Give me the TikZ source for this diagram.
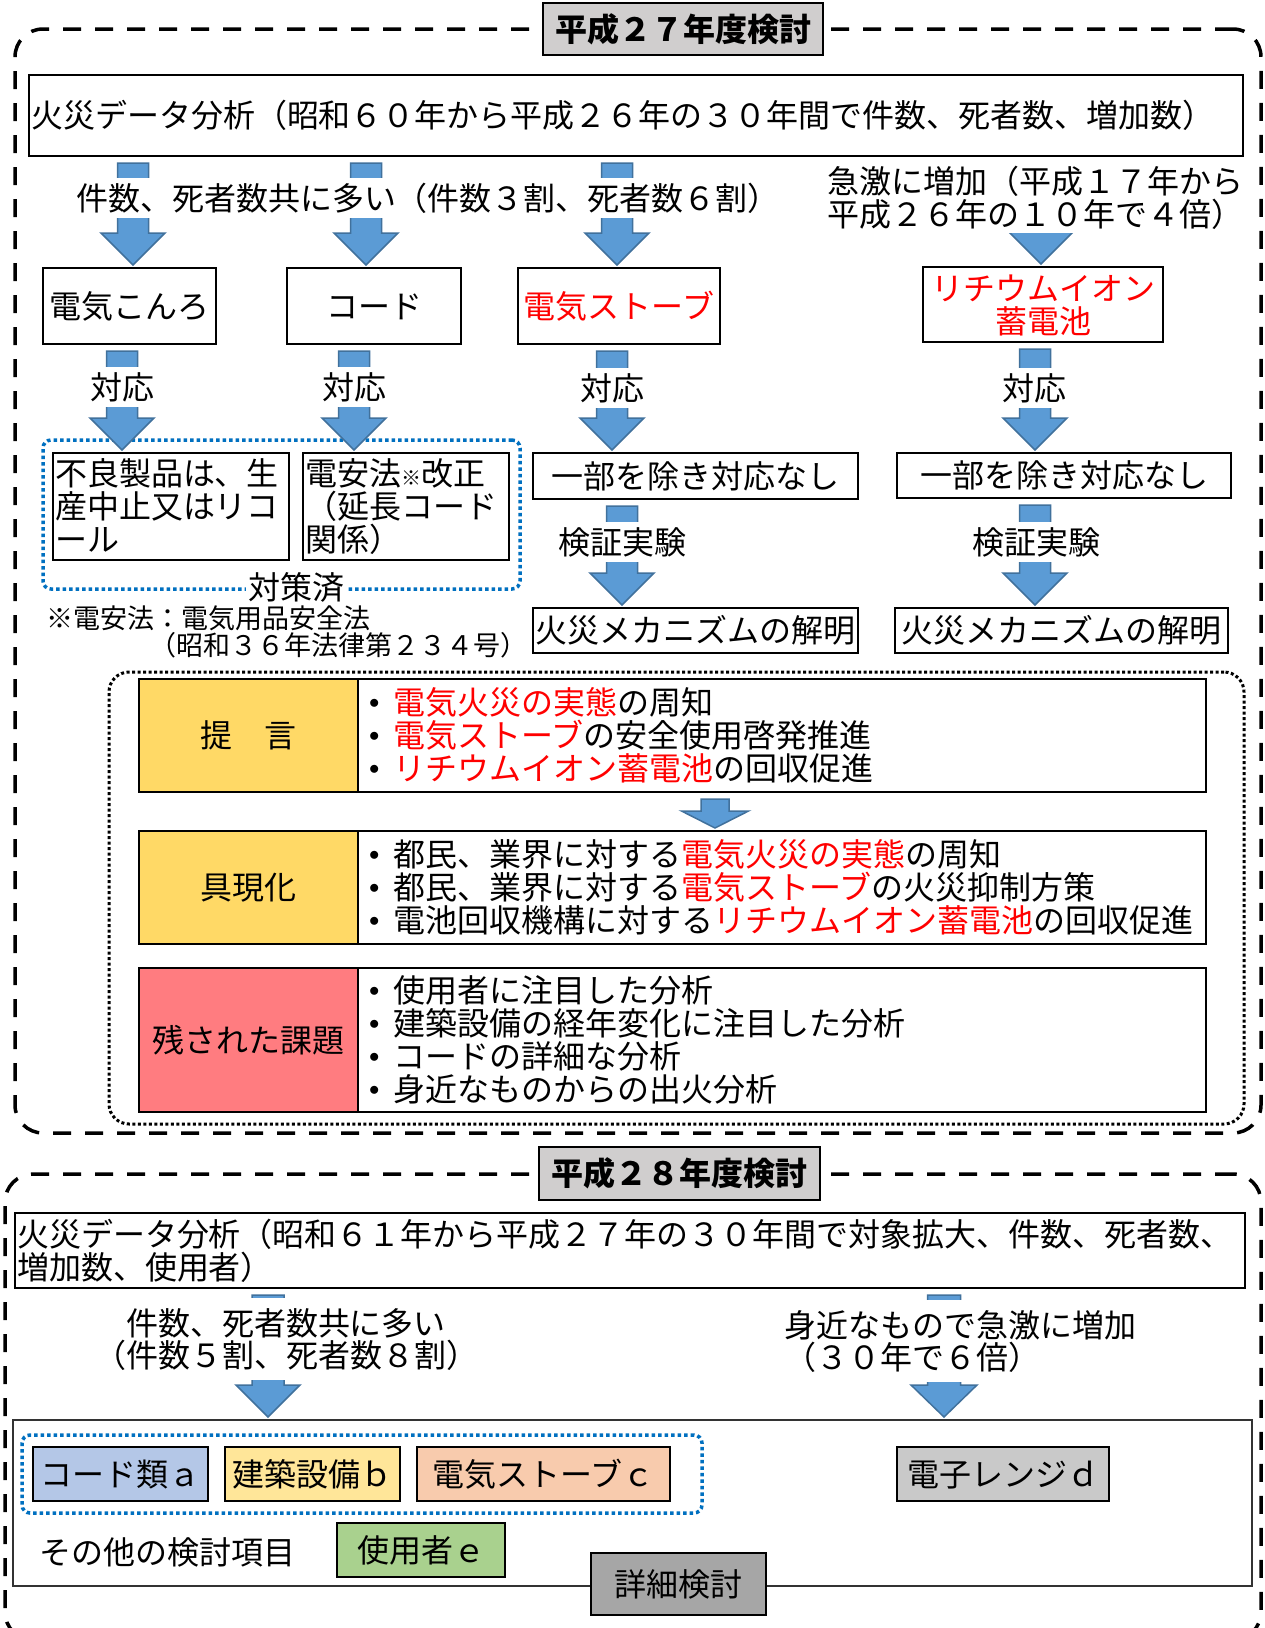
\documentclass[tikz,border=0pt]{standalone}
\usepackage{fontspec}
\setmainfont{Noto Sans CJK JP}
\usetikzlibrary{calc}
\definecolor{afill}{HTML}{5B9BD5}
\definecolor{aedge}{HTML}{41719C}
\definecolor{dblue}{HTML}{0070C0}
\definecolor{tgray}{HTML}{D0CECE}
\definecolor{yel}{HTML}{FFD966}
\definecolor{rowred}{HTML}{FF7C80}
\definecolor{cblue}{HTML}{B4C7E7}
\definecolor{cyel}{HTML}{FFE699}
\definecolor{corange}{HTML}{F8CBAD}
\definecolor{cgray}{HTML}{C9C9C9}
\definecolor{cgreen}{HTML}{A9D18E}
\definecolor{dgray}{HTML}{A6A6A6}
\newcommand\tx{\fontsize{32pt}{31.5pt}\selectfont}
\newcommand\zs{\rule[-0.12em]{0pt}{1em}}
\newcommand\bul{\makebox[24pt][l]{\raisebox{0.2em}{\fontsize{22pt}{22pt}\selectfont$\bullet$}}}
\newcommand\barrow[6]{%
  \draw[arrowst] let \p1=(#2), \p2=(#3) in
    ({#1pt-#4pt},{\y1-6pt}) -- ({#1pt+#4pt},{\y1-6pt})
    -- ({#1pt+#4pt},{\y2+2pt+#6pt}) -- ({#1pt+#5pt},{\y2+2pt+#6pt})
    -- ({#1pt},{\y2+2pt}) -- ({#1pt-#5pt},{\y2+2pt+#6pt})
    -- ({#1pt-#4pt},{\y2+2pt+#6pt}) -- cycle;}
\begin{document}
\begin{tikzpicture}[x=1pt,y=-1pt,
  bx/.style={draw=black, line width=2pt, inner sep=0pt, font=\tx, align=center},
  lbl/.style={fill=white, inner sep=4pt, font=\tx},
  arrowst/.style={draw=aedge, fill=afill, line width=1.5pt, line join=miter},
  dashframe/.style={draw=black, line width=3.5pt, dash pattern=on 18pt off 14pt, rounded corners=28pt, inner sep=0pt},
  dotblue/.style={draw=dblue, line width=3.5pt, dash pattern=on 3.5pt off 3pt, rounded corners=8pt, inner sep=0pt},
  dotblack/.style={draw=black, line width=3pt, dash pattern=on 3pt off 2.5pt, rounded corners=20pt, inner sep=0pt},
  cellL/.style={bx, minimum width=219pt},
  cellR/.style={bx, minimum width=848pt, text width=826pt, align=left}]
\useasboundingbox (0,0) rectangle (1264,1628);
\fill[white] (0,0) rectangle (1264,1628);

% ---------- H27 ----------
\node[dashframe, minimum width=1246pt, minimum height=1104pt] (sec1) at (638,581) {};
\node[bx, fill=tgray, minimum width=280pt, minimum height=52pt, font=\tx\bfseries] (title1) at (683,29) {\zs 平成２７年度検討};
\node[bx, minimum width=1214pt, minimum height=81pt, text width=1210pt, align=left] (anal1) at (636,115.5) {\zs 火災データ分析（昭和６０年から平成２６年の３０年間で件数、死者数、増加数）};

\node[bx, minimum width=173pt, minimum height=76pt] (b11) at (129.5,306) {\zs 電気こんろ};
\node[bx, minimum width=174pt, minimum height=76pt] (b12) at (374,306) {\zs コード};
\node[bx, minimum width=202pt, minimum height=76pt, text=red] (b13) at (619,306) {\zs 電気ストーブ};
\node[bx, minimum width=240pt, minimum height=75pt, text=red] (b14) at (1043,304.5) {\zs リチウムイオン\\\zs 蓄電池};

\barrow{133}{anal1.south}{b11.north}{15.5}{32}{32}
\barrow{366}{anal1.south}{b12.north}{15.5}{32}{32}
\barrow{617}{anal1.south}{b13.north}{15.5}{32}{32}
\barrow{1041}{anal1.south}{b14.north}{15.5}{32}{32}

\node[lbl] (k1) at (428,198) {\zs 件数、死者数共に多い（件数３割、死者数６割）};
\node[lbl, align=left, anchor=west, inner sep=3pt] (k2) at (824,197.5) {\zs 急激に増加（平成１７年から\\\zs 平成２６年の１０年で４倍）};

\node[dotblue, minimum width=477pt, minimum height=149pt] (grp1) at (281.5,514.5) {};
\node[bx, minimum width=236pt, minimum height=107pt, text width=232pt, align=left] (b21) at (171,506.5) {\zs 不良製品は、生\\\zs 産中止又はリコ\\\zs ール};
\node[bx, minimum width=206pt, minimum height=107pt, text width=202pt, align=left] (b22) at (406,506.5) {\zs 電安法{\fontsize{20pt}{20pt}\selectfont ※}改正\\\zs （延長コード\\\zs 関係）};
\node[bx, minimum width=325pt, minimum height=46pt] (b23) at (695.5,476) {\zs 一部を除き対応なし};
\node[bx, minimum width=334pt, minimum height=45pt] (b24) at (1064,475.5) {\zs 一部を除き対応なし};
\node[bx, minimum width=325pt, minimum height=45pt] (b33) at (695.5,630.5) {\zs 火災メカニズムの解明};
\node[bx, minimum width=333pt, minimum height=45pt] (b34) at (1061.5,630.5) {\zs 火災メカニズムの解明};

\barrow{122}{b11.south}{b21.north}{15.5}{32}{32}
\barrow{354}{b12.south}{b22.north}{15.5}{32}{32}
\barrow{612}{b13.south}{b23.north}{15.5}{32}{32}
\barrow{1035}{b14.south}{b24.north}{15.5}{32}{32}
\barrow{622}{b23.south}{b33.north}{15.5}{32}{32}
\barrow{1035}{b24.south}{b34.north}{15.5}{32}{32}

\node[lbl] (r1) at (122,387) {\zs 対応};
\node[lbl] (r2) at (354,387) {\zs 対応};
\node[lbl] (r3) at (612,388) {\zs 対応};
\node[lbl] (r4) at (1034,388) {\zs 対応};
\node[lbl] (v3) at (622,542) {\zs 検証実験};
\node[lbl] (v4) at (1036,542) {\zs 検証実験};
\node[lbl, inner sep=2pt] (ts) at (296,587) {\zs 対策済};
\node[anchor=west, align=left, inner sep=0pt, font=\fontsize{27pt}{27pt}\selectfont] (note) at (46,631.5) {\zs ※電安法：電気用品安全法\\\hspace*{103pt}\zs （昭和３６年法律第２３４号）};

% table
\node[dotblack, minimum width=1135pt, minimum height=452pt] (grp2) at (676.5,898) {};
\node[cellL, fill=yel, minimum height=113pt] (L1) at (248.5,735.5) {\zs 提　言};
\node[cellR, minimum height=113pt] (R1) at (782,735.5) {\zs\bul\textcolor{red}{電気火災の実態}の周知\\\zs\bul\textcolor{red}{電気ストーブ}の安全使用啓発推進\\\zs\bul\textcolor{red}{リチウムイオン蓄電池}の回収促進};
\node[cellL, fill=yel, minimum height=113pt] (L2) at (248.5,887.5) {\zs 具現化};
\node[cellR, minimum height=113pt] (R2) at (782,887.5) {\zs\bul 都民、業界に対する\textcolor{red}{電気火災の実態}の周知\\\zs\bul 都民、業界に対する\textcolor{red}{電気ストーブ}の火災抑制方策\\\zs\bul 電池回収機構に対する\textcolor{red}{リチウムイオン蓄電池}の回収促進};
\node[cellL, fill=rowred, minimum height=144pt] (L3) at (248.5,1040) {\zs 残された課題};
\node[cellR, minimum height=144pt] (R3) at (782,1040) {\zs\bul 使用者に注目した分析\\\zs\bul 建築設備の経年変化に注目した分析\\\zs\bul コードの詳細な分析\\\zs\bul 身近なものからの出火分析};
\barrow{715}{R1.south}{R2.north}{14}{33.5}{17}

% ---------- H28 ----------
\node[dashframe, minimum width=1256pt, minimum height=466pt] (sec2) at (633,1407) {};
\node[bx, fill=tgray, minimum width=281pt, minimum height=53pt, font=\tx\bfseries] (title2) at (679.5,1173.5) {\zs 平成２８年度検討};
\node[bx, minimum width=1230pt, minimum height=75pt, text width=1226pt, align=left, font=\fontsize{32pt}{33pt}\selectfont] (anal2) at (630,1250.5) {\zs 火災データ分析（昭和６１年から平成２７年の３０年間で対象拡大、件数、死者数、\\\zs 増加数、使用者）};

\node[bx, draw=black!80, minimum width=1239pt, minimum height=166pt] (det) at (632.5,1503) {};
\node[dotblue, minimum width=680pt, minimum height=78pt] (grp3) at (362,1474) {};
\node[bx, fill=cblue, minimum width=175pt, minimum height=54pt] (c1) at (120.5,1474) {\zs コード類ａ};
\node[bx, fill=cyel, minimum width=175pt, minimum height=54pt] (c2) at (312.5,1474) {\zs 建築設備ｂ};
\node[bx, fill=corange, minimum width=253pt, minimum height=54pt] (c3) at (543.5,1474) {\zs 電気ストーブｃ};
\node[bx, fill=cgray, minimum width=212pt, minimum height=54pt] (c4) at (1003,1474) {\zs 電子レンジｄ};
\node[bx, fill=cgreen, minimum width=168pt, minimum height=54pt] (c5) at (421,1550) {\zs 使用者ｅ};
\node[font=\tx, inner sep=0pt] (other) at (167.5,1552) {\zs その他の検討項目};
\node[bx, fill=dgray, minimum width=175pt, minimum height=62pt] (det2) at (678.5,1584) {\zs 詳細検討};

\barrow{268}{anal2.south}{det.north}{16}{32}{32}
\barrow{944}{anal2.south}{det.north}{16.5}{33}{32}
\node[lbl, align=center, inner ysep=9pt, font=\fontsize{32pt}{32pt}\selectfont] (k3) at (286,1339) {\zs 件数、死者数共に多い\\\zs （件数５割、死者数８割）};
\node[lbl, align=left, anchor=west, inner xsep=3pt, inner ysep=9pt, font=\fontsize{32pt}{32pt}\selectfont] (k4) at (781,1341) {\zs 身近なもので急激に増加\\\zs （３０年で６倍）};
\end{tikzpicture}
\end{document}
